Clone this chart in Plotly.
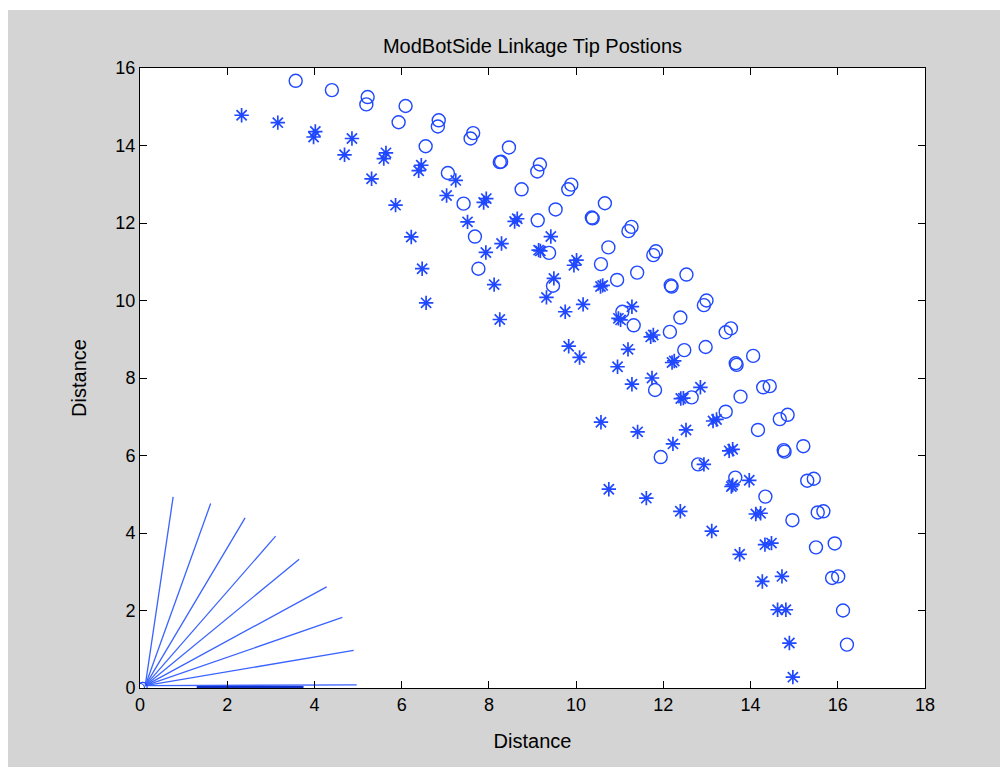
import plotly.graph_objects as go

# ---- data ----
circ_x = [3.57, 4.40, 5.22, 5.19, 6.09, 5.93, 6.55, 6.85, 6.83, 7.64, 7.58, 8.46, 8.25, 8.28, 9.17,
          9.11, 7.06, 8.75, 9.89, 9.82, 7.42, 10.66, 9.53, 10.36, 10.38, 9.12, 11.27, 11.20, 7.68, 10.74,
          11.83, 11.77, 9.38, 10.57, 7.76, 11.40, 10.94, 9.47, 11.06, 11.32, 12.53, 12.17, 12.19, 12.99, 12.93,
          12.39, 12.15, 13.55, 13.43, 12.48, 12.97, 14.06, 13.66, 13.68, 11.81, 12.65, 13.77, 14.29, 14.44, 13.43,
          14.67, 14.85, 14.17, 14.76, 14.78, 15.21, 11.94, 12.80, 13.65, 15.30, 15.45, 14.34, 15.54, 15.67, 14.96,
          15.50, 15.93, 15.87, 16.01, 16.12, 16.21]
circ_y = [15.67, 15.43, 15.25, 15.06, 15.02, 14.60, 13.98, 14.65, 14.49, 14.32, 14.18, 13.95, 13.57, 13.58, 13.51,
          13.33, 13.29, 12.87, 12.99, 12.87, 12.50, 12.51, 12.35, 12.14, 12.12, 12.07, 11.90, 11.79, 11.65, 11.37,
          11.27, 11.17, 11.23, 10.94, 10.82, 10.72, 10.53, 10.38, 9.71, 9.36, 10.67, 10.39, 10.36, 10.00, 9.88,
          9.56, 9.19, 9.28, 9.18, 8.72, 8.80, 8.57, 8.38, 8.34, 7.69, 7.50, 7.52, 7.76, 7.79, 7.13,
          6.94, 7.05, 6.66, 6.14, 6.10, 6.24, 5.96, 5.77, 5.43, 5.35, 5.40, 4.94, 4.53, 4.56, 4.33,
          3.63, 3.73, 2.84, 2.88, 2.00, 1.12]

star_x = [2.33, 3.16, 4.02, 3.98, 4.86, 4.69, 5.64, 5.59, 5.31, 6.45, 6.39, 5.86, 6.22, 6.47, 6.56,
          7.24, 7.03, 7.94, 7.88, 7.51, 8.65, 8.59, 8.29, 7.93, 9.42, 9.14, 9.18, 10.01, 9.95, 8.12,
          8.25, 9.49, 9.32, 10.61, 10.56, 10.16, 9.75, 11.28, 10.97, 11.02, 9.83, 10.08, 11.19, 10.95, 11.77,
          11.71, 11.74, 11.28, 10.57, 11.41, 10.75, 11.61, 12.20, 12.25, 12.85, 12.40, 12.46, 13.14, 13.22, 12.52,
          12.22, 13.51, 13.59, 12.93, 13.56, 13.59, 13.97, 12.39, 14.12, 14.23, 13.11, 13.75, 14.33, 14.48, 14.27,
          14.72, 14.62, 14.81, 14.89, 14.97]
star_y = [14.78, 14.59, 14.36, 14.22, 14.18, 13.76, 13.81, 13.66, 13.14, 13.49, 13.35, 12.46, 11.64, 10.82, 9.94,
          13.10, 12.71, 12.63, 12.53, 12.03, 12.11, 12.04, 11.47, 11.24, 11.65, 11.30, 11.28, 11.04, 10.91, 10.41,
          9.51, 10.57, 10.08, 10.39, 10.36, 9.90, 9.71, 9.84, 9.54, 9.50, 8.82, 8.53, 8.74, 8.29, 9.11,
          9.06, 8.00, 7.84, 6.86, 6.61, 5.13, 4.90, 8.40, 8.44, 7.76, 7.47, 7.48, 6.89, 6.93, 6.66,
          6.30, 6.12, 6.16, 5.77, 5.20, 5.24, 5.36, 4.56, 4.49, 4.51, 4.05, 3.45, 3.70, 3.74, 2.75,
          2.88, 2.02, 2.02, 1.16, 0.28]

# linkage fan (from a common base point to each tip)
fan_base = (0.12, 0.06)
fan_end_x = [0.76, 1.62, 2.41, 3.11, 3.65, 4.28, 4.64, 4.90, 4.97]
fan_end_y = [4.93, 4.76, 4.39, 3.92, 3.32, 2.61, 1.82, 0.97, 0.08]

# darker segment lying along the x axis
base_seg_x = [1.3, 3.75]
base_seg_y = [0.02, 0.02]

# small markers at the origin
origin_x = [0.0, 0.06]
origin_y = [0.0, 0.03]

x_ticks = [0, 2, 4, 6, 8, 10, 12, 14, 16, 18]
y_ticks = [0, 2, 4, 6, 8, 10, 12, 14, 16]

BLUE = "#1f48ff"
FONT = "Liberation Sans"

fan_x, fan_y = [], []
for ex, ey in zip(fan_end_x, fan_end_y):
    fan_x += [fan_base[0], ex, None]
    fan_y += [fan_base[1], ey, None]

fig = go.Figure()
fig.add_trace(go.Scatter(x=fan_x, y=fan_y, mode="lines",
                         line=dict(color="#3a63ff", width=1.3), hoverinfo="skip"))
fig.add_trace(go.Scatter(x=base_seg_x, y=base_seg_y, mode="lines",
                         line=dict(color="#1030c8", width=2.5), hoverinfo="skip"))
fig.add_trace(go.Scatter(x=origin_x, y=origin_y, mode="markers",
                         marker=dict(symbol="circle-open", size=9, color=BLUE, line=dict(width=1.2))))
fig.add_trace(go.Scatter(x=circ_x, y=circ_y, mode="markers",
                         marker=dict(symbol="circle-open", size=13, color=BLUE, line=dict(width=1.4))))
fig.add_trace(go.Scatter(x=star_x, y=star_y, mode="markers",
                         marker=dict(symbol="asterisk-open", size=12, color=BLUE, line=dict(width=1.7))))

axis_common = dict(showline=True, linecolor="black", linewidth=1, mirror="allticks",
                   ticks="inside", ticklen=7, tickcolor="black", tickwidth=1,
                   showgrid=False, zeroline=False,
                   tickfont=dict(family=FONT, size=18, color="black"))

fig.update_xaxes(range=[0, 18], tickvals=x_ticks, ticktext=[str(v) for v in x_ticks],
                 title=dict(text="Distance", font=dict(family=FONT, size=20, color="black"), standoff=20),
                 **axis_common)
fig.update_yaxes(range=[0, 16], tickvals=y_ticks, ticktext=[str(v) for v in y_ticks],
                 title=dict(text="Distance", font=dict(family=FONT, size=20, color="black"), standoff=23),
                 **axis_common)

W, H = 1000, 759
L, T, R, B = 132, 60, 83, 79
PW, PH = W - L - R, H - T - B

fig.update_layout(
    width=W, height=H, autosize=False,
    margin=dict(l=L, r=R, t=T, b=B),
    paper_bgcolor="#d4d4d4", plot_bgcolor="white",
    showlegend=False,
    title=dict(text="ModBotSide Linkage Tip Postions", x=0.5, xanchor="center",
               xref="paper", y=1 - 38 / H, yref="container", yanchor="middle",
               font=dict(family=FONT, size=20, color="black")),
    shapes=[
        dict(type="rect", xref="paper", yref="paper", x0=-L / PW, x1=(W - L) / PW,
             y0=1 + (T - 2) / PH, y1=1 + T / PH, fillcolor="white", line=dict(width=0), layer="below"),
    ],
)

fig.write_html("out.html")
